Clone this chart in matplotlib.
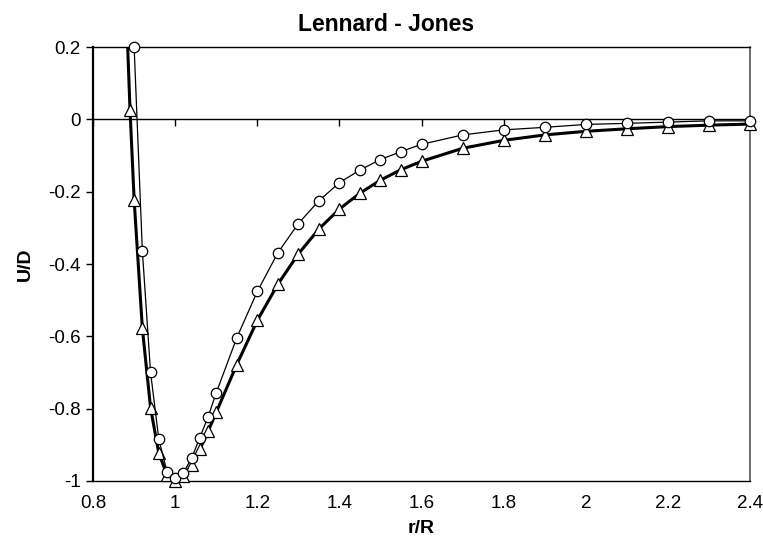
import matplotlib
matplotlib.use('Agg')
import matplotlib.pyplot as plt
import numpy as np

plt.rcParams['font.family'] = ['Liberation Sans', 'DejaVu Sans']

# Lennard-Jones reference curve (triangles, thick line)
r_lj = [0.88, 0.89, 0.90, 0.92, 0.94, 0.96, 0.98, 1.00, 1.02, 1.04, 1.06, 1.08, 1.10,
        1.15, 1.20, 1.25, 1.30, 1.35, 1.40, 1.45, 1.50, 1.55, 1.60, 1.70, 1.80,
        1.90, 2.00, 2.10, 2.20, 2.30, 2.40]
u_lj = [0.33, 0.025, -0.223, -0.578, -0.798, -0.923, -0.983, -1.0, -0.987, -0.956,
        -0.913, -0.863, -0.810, -0.678, -0.556, -0.456, -0.372, -0.303, -0.248,
        -0.204, -0.168, -0.139, -0.116, -0.080, -0.058, -0.043, -0.033, -0.026,
        -0.020, -0.016, -0.013]

# fitted curve (circles, thin line)
r_fit = [0.90, 0.92, 0.94, 0.96, 0.98, 1.00, 1.02, 1.04, 1.06, 1.08, 1.10, 1.15,
         1.20, 1.25, 1.30, 1.35, 1.40, 1.45, 1.50, 1.55, 1.60, 1.70, 1.80, 1.90,
         2.00, 2.10, 2.20, 2.30, 2.40]
u_fit = [0.2, -0.364, -0.70, -0.884, -0.974, -0.992, -0.977, -0.937, -0.88, -0.823,
         -0.756, -0.604, -0.476, -0.369, -0.288, -0.225, -0.175, -0.14, -0.111,
         -0.089, -0.069, -0.043, -0.029, -0.022, -0.014, -0.011, -0.0075, -0.004,
         -0.004]

x_ticks = [0.8, 1.0, 1.2, 1.4, 1.6, 1.8, 2.0, 2.2, 2.4]
x_ticklabels = ['0.8', '1', '1.2', '1.4', '1.6', '1.8', '2', '2.2', '2.4']
y_ticks = [-1.0, -0.8, -0.6, -0.4, -0.2, 0.0, 0.2]
y_ticklabels = ['-1', '-0.8', '-0.6', '-0.4', '-0.2', '0', '0.2']

fig = plt.figure(figsize=(7.63, 5.41), dpi=100)
ax = fig.add_axes([0.122, 0.111, 0.861, 0.802])

r_lj = np.array(r_lj)
u_lj = np.array(u_lj)
inside = (u_lj <= 0.2) & (u_lj >= -1.0)

# triangles series
ax.plot(r_lj, u_lj, color='black', lw=2.2, zorder=3)
ax.plot(r_lj[inside], u_lj[inside], ls='none', marker='^', ms=8.5, mfc='white',
        mec='black', mew=0.9, clip_on=False, zorder=4)

# circles series
ax.plot(r_fit, u_fit, color='black', lw=0.9, marker='o', ms=7.5, mfc='white',
        mec='black', mew=0.9, clip_on=False, zorder=5)

ax.set_xlim(0.8, 2.4)
ax.set_ylim(-1.0, 0.2)

ax.set_xticks(x_ticks, x_ticklabels)
ax.set_yticks(y_ticks, y_ticklabels)
ax.tick_params(axis='x', length=0, pad=10, labelsize=13.5)
ax.tick_params(axis='y', direction='out', length=5, width=1, labelsize=13.5, pad=4)

# x axis line drawn through U = 0 with small ticks
ax.axhline(0, color='black', lw=1, zorder=2)
sec = ax.secondary_xaxis(5.0 / 6.0)
sec.set_xticks(x_ticks)
sec.tick_params(axis='x', direction='out', length=5, width=1, labelbottom=False,
                labeltop=False, bottom=True, top=False)
sec.spines['bottom'].set_visible(False)
sec.spines['top'].set_visible(False)

ax.spines['left'].set_linewidth(1.6)
ax.spines['bottom'].set_linewidth(1.0)
ax.spines['top'].set_linewidth(1.0)
ax.spines['right'].set_linewidth(1.2)
ax.spines['right'].set_color('#555555')

fig.text(0.506, 0.954, 'Lennard - Jones', fontsize=16.5, fontweight='bold',
         ha='center', va='center')
ax.set_xlabel('r/R', fontsize=14, fontweight='bold', labelpad=6)
ax.set_ylabel('U/D', fontsize=14, fontweight='bold', labelpad=10)

fig.savefig('out.png', dpi=100)
